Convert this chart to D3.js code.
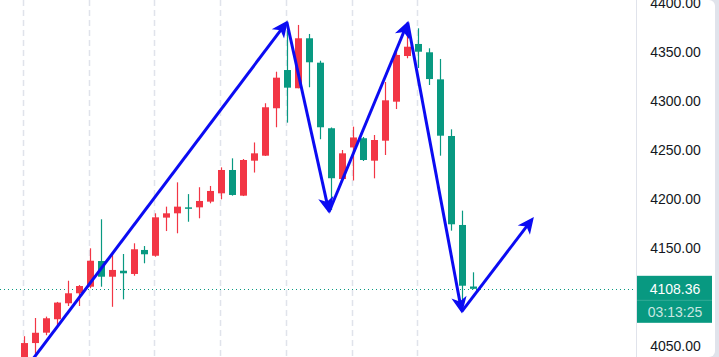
<!DOCTYPE html>
<html>
<head>
<meta charset="utf-8">
<script src="https://cdn.jsdelivr.net/npm/d3@7/dist/d3.min.js"></script>
<style>
  html, body { margin: 0; padding: 0; background: #e0e3eb; overflow: hidden; }
  svg { display: block; }
</style>
</head>
<body>
<svg id="chart" width="719" height="357"></svg>
<script>
// ---- data ----
const opens  = [4036, 4053, 4063.6, 4077.3, 4093.6, 4103.8, 4110.5, 4136.7, 4120.7, 4126.8,
                4123.5, 4148, 4142.1, 4181, 4185.4, 4191.5, 4191.5, 4197.3, 4205.8, 4229.6,
                4203.4, 4239.1, 4244.2, 4292.6, 4331.6, 4313, 4364, 4339.1, 4272.2, 4220.4,
                4252.6, 4262, 4239.1, 4259.5, 4299.3, 4345.9, 4358.2, 4349.7, 4322.1, 4264.3,
                4173.5, 4110.7];
const highs  = [4060, 4078.6, 4080, 4095, 4116.6, 4112.2, 4149.7, 4179.3, 4144.6, 4143.9,
                4154.8, 4152, 4185.4, 4192.2, 4217, 4205, 4212, 4213.3, 4232.3, 4241.5,
                4240.8, 4257.7, 4297.7, 4329.9, 4372, 4377.6, 4368.4, 4341.1, 4273, 4250,
                4273.8, 4263.3, 4265.3, 4319.4, 4354, 4367.3, 4374.2, 4353.8, 4342.9, 4271.1,
                4188.1, 4125.2];
const lows   = [4030, 4042, 4061, 4071, 4090.8, 4090.8, 4109, 4110.5, 4090, 4097.6,
                4121.7, 4134.4, 4141.1, 4167.3, 4165, 4176.8, 4180.3, 4195.6, 4199.7, 4203.4,
                4203, 4227, 4243.9, 4273.2, 4277.9, 4313, 4314, 4261, 4188.8, 4219.4,
                4218.9, 4238.8, 4221.1, 4244.9, 4291.8, 4343.6, 4333.7, 4316.3, 4244.2, 4167.7,
                4091.8, 4108];
const closes = [4053, 4063.5, 4078.3, 4094.3, 4103.8, 4111.2, 4137, 4120.7, 4127.6, 4124.2,
                4148.7, 4143.6, 4181.3, 4185.4, 4192.2, 4190.3, 4198, 4208.2, 4229.6, 4204.1,
                4239.8, 4246.6, 4293.6, 4323.8, 4313.6, 4364, 4339.5, 4273.2, 4221.2, 4246.6,
                4262.8, 4239.8, 4260.2, 4300.7, 4347, 4355.4, 4350.3, 4322.4, 4264.6, 4174.2,
                4111.5, 4108.36];
const priceTicks = [4050, 4100, 4150, 4200, 4250, 4300, 4350, 4400];
const shownTicks = [4050, 4150, 4200, 4250, 4300, 4350, 4400];
const gridIdx = [0, 6, 12, 18, 24, 30, 36];
const lastPrice = 4108.36;
const lastPriceLabel = "4108.36";
const countdownLabel = "03:13:25";
// annotation arrows: [candle index, price]
const arrowIdx   = [0.7, 24.0, 27.85, 35.04, 39.97, 46.46];
const arrowPrice = [4035, 4380.6, 4186.7, 4380.1, 4085, 4180.3];

// ---- layout ----
const W = 719, H = 357;
const axisX = 636;
const UP = "#F23645", DOWN = "#089981", ARROW = "#0b0bf2";

const svg = d3.select("#chart");
const x = d3.scaleLinear().domain([0, 41]).range([24, 473]);
const y = d3.scaleLinear().domain([4050, 4400]).range([346, 3]);

// white panel with rounded right corners
svg.append("rect").attr("x", -20).attr("y", 0).attr("width", 735).attr("height", H)
  .attr("rx", 6).attr("fill", "#ffffff");

const clip = svg.append("clipPath").attr("id", "plot")
  .append("rect").attr("x", 0).attr("y", 0).attr("width", axisX).attr("height", H);

const plot = svg.append("g").attr("clip-path", "url(#plot)");

// vertical dashed grid
plot.selectAll("line.grid").data(gridIdx).join("line")
  .attr("class", "grid")
  .attr("x1", d => Math.round(x(d)) - 0.5).attr("x2", d => Math.round(x(d)) - 0.5)
  .attr("y1", 0).attr("y2", H)
  .attr("stroke", "#e0e3eb").attr("stroke-width", 1.5)
  .attr("stroke-dasharray", "6,4");

// price line
plot.append("line")
  .attr("x1", 0).attr("x2", axisX)
  .attr("y1", Math.round(y(lastPrice)) + 0.5).attr("y2", Math.round(y(lastPrice)) + 0.5)
  .attr("stroke", DOWN).attr("stroke-width", 1).attr("stroke-dasharray", "1,3");

// candles
const candles = d3.range(opens.length).map(i => ({i, o: opens[i], h: highs[i], l: lows[i], c: closes[i]}));
const cg = plot.append("g");
cg.selectAll("line.wick").data(candles).join("line")
  .attr("class", "wick")
  .attr("x1", d => Math.round(x(d.i)) + 0.5).attr("x2", d => Math.round(x(d.i)) + 0.5)
  .attr("y1", d => y(d.h)).attr("y2", d => y(d.l))
  .attr("stroke", d => d.c >= d.o ? UP : DOWN).attr("stroke-width", 1.2);
cg.selectAll("rect.body").data(candles).join("rect")
  .attr("class", "body")
  .attr("x", d => Math.round(x(d.i)) - 3)
  .attr("width", 7)
  .attr("y", d => y(Math.max(d.o, d.c)))
  .attr("height", d => Math.max(1.5, Math.abs(y(d.o) - y(d.c))))
  .attr("fill", d => d.c >= d.o ? UP : DOWN);

// arrows
function arrowHead(g, px, py, ang) {
  const L = 13, Wd = 6, notch = 3.5;
  const ca = Math.cos(ang), sa = Math.sin(ang);
  const pt = (a, b) => [px + a * ca - b * sa, py + a * sa + b * ca];
  const pts = [pt(0, 0), pt(-L, -Wd), pt(-L + notch, 0), pt(-L, Wd)];
  g.append("path").attr("d", "M" + pts.map(p => p.join(",")).join("L") + "Z")
    .attr("fill", ARROW).attr("stroke", ARROW).attr("stroke-width", 1.5)
    .attr("stroke-linejoin", "miter");
}
const ag = plot.append("g");
for (let k = 1; k < arrowIdx.length; k++) {
  const x0 = x(arrowIdx[k - 1]), y0 = y(arrowPrice[k - 1]);
  const x1 = x(arrowIdx[k]), y1 = y(arrowPrice[k]);
  const ang = Math.atan2(y1 - y0, x1 - x0);
  ag.append("line")
    .attr("x1", x0).attr("y1", y0)
    .attr("x2", x1 - 6 * Math.cos(ang)).attr("y2", y1 - 6 * Math.sin(ang))
    .attr("stroke", ARROW).attr("stroke-width", 3);
  arrowHead(ag, x1, y1, ang);
}

// right price axis
svg.append("line").attr("x1", axisX + 0.5).attr("x2", axisX + 0.5).attr("y1", 0).attr("y2", H)
  .attr("stroke", "#e0e3eb").attr("stroke-width", 1);
svg.append("g").selectAll("text").data(shownTicks).join("text")
  .attr("x", 675.5).attr("y", d => y(d))
  .attr("dy", "0.36em")
  .attr("text-anchor", "middle")
  .attr("font-family", "'Liberation Sans', Arial, sans-serif")
  .attr("font-size", 14)
  .attr("fill", "#131722")
  .text(d => d3.format(".2f")(d));

// last price label
const lp = svg.append("g");
const ly = y(lastPrice);
lp.append("rect").attr("x", axisX + 1).attr("y", ly - 13).attr("width", 75).attr("height", 47)
  .attr("fill", DOWN);
lp.append("line").attr("x1", axisX + 1).attr("x2", axisX + 76).attr("y1", ly + 11.5).attr("y2", ly + 11.5)
  .attr("stroke", "#ffffff").attr("stroke-opacity", 0.18);
lp.append("text").attr("x", 675).attr("y", ly).attr("dy", "0.36em")
  .attr("text-anchor", "middle")
  .attr("font-family", "'Liberation Sans', Arial, sans-serif").attr("font-size", 14)
  .attr("fill", "#ffffff").text(lastPriceLabel);
lp.append("text").attr("x", 675).attr("y", ly + 23).attr("dy", "0.36em")
  .attr("text-anchor", "middle")
  .attr("font-family", "'Liberation Sans', Arial, sans-serif").attr("font-size", 14)
  .attr("fill", "#ffffff").attr("fill-opacity", 0.78).text(countdownLabel);
</script>
</body>
</html>
